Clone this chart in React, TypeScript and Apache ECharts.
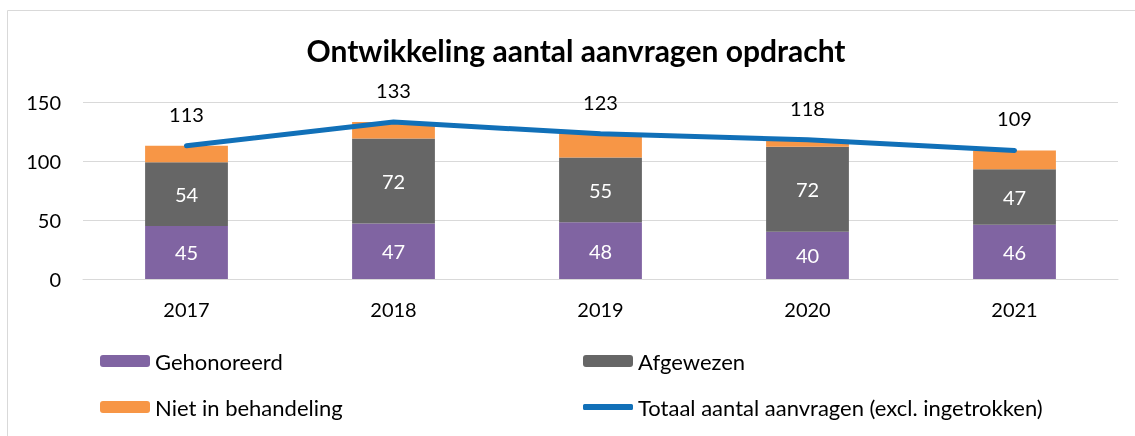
import React, { useEffect, useRef } from "react";
import * as echarts from "echarts";

const categories = ["2017", "2018", "2019", "2020", "2021"];
const gehonoreerd = [45, 47, 48, 40, 46];
const afgewezen = [54, 72, 55, 72, 47];
const nietInBehandeling = [14, 14, 20, 6, 16];
const totaal = [113, 133, 123, 118, 109];
const yTicks = { min: 0, max: 150, interval: 50 };

const FONT = "Lato";

export default function App() {
  const ref = useRef<HTMLDivElement>(null);
  useEffect(() => {
    if (!ref.current) return;
    const chart = echarts.init(ref.current, undefined, { renderer: "svg" });
    const legendBase = {
      itemWidth: 50,
      itemHeight: 12,
      padding: 0,
      textStyle: { fontSize: 22, color: "#000", fontFamily: FONT, padding: [0, 0, 0, 0] },
      selectedMode: false,
    };
    chart.setOption({
      animation: false,
      textStyle: { fontFamily: FONT },
      graphic: [
        {
          type: "rect",
          shape: { x: 7.5, y: 10.5, width: 1300, height: 600 },
          style: { fill: "none", stroke: "#D9D9D9", lineWidth: 1 },
          silent: true,
        },
        {
          type: "text",
          x: 576,
          y: 50,
          style: {
            text: "Ontwikkeling aantal aanvragen opdracht",
            fontFamily: FONT,
            fontWeight: "bold",
            fontSize: 30,
            fill: "#000",
            align: "center",
            verticalAlign: "middle",
          },
        },
      ],
      grid: { left: 83, right: 17, top: 102, bottom: 157 },
      legend: [
        { ...legendBase, data: ["Gehonoreerd"], left: 100, top: 350 },
        { ...legendBase, data: ["Afgewezen"], left: 583, top: 350 },
        { ...legendBase, data: ["Niet in behandeling"], left: 100, top: 396 },
        {
          ...legendBase,
          data: [
            {
              name: "Totaal aantal aanvragen (excl. ingetrokken)",
              icon: "roundRect",
            },
          ],
          itemHeight: 6,
          left: 583,
          top: 396,
        },
      ],
      xAxis: {
        type: "category",
        data: categories,
        axisLine: { show: true, lineStyle: { color: "#D9D9D9", width: 1 } },
        axisTick: { show: false },
        axisLabel: { fontSize: 20, color: "#000", margin: 20, fontFamily: FONT },
      },
      yAxis: {
        type: "value",
        min: yTicks.min,
        max: yTicks.max,
        interval: yTicks.interval,
        axisLine: { show: false },
        axisTick: { show: false },
        splitLine: { lineStyle: { color: "#D9D9D9", width: 1 } },
        axisLabel: { fontSize: 20, color: "#000", margin: 22, fontFamily: FONT },
      },
      series: [
        {
          name: "Gehonoreerd",
          type: "bar",
          stack: "total",
          barWidth: "40%",
          data: gehonoreerd,
          itemStyle: { color: "#8064A2" },
          label: { show: true, position: "inside", color: "#fff", fontSize: 20, fontFamily: FONT },
        },
        {
          name: "Afgewezen",
          type: "bar",
          stack: "total",
          data: afgewezen,
          itemStyle: { color: "#666666" },
          label: { show: true, position: "inside", color: "#fff", fontSize: 20, fontFamily: FONT },
        },
        {
          name: "Niet in behandeling",
          type: "bar",
          stack: "total",
          data: nietInBehandeling,
          itemStyle: { color: "#F79646" },
        },
        {
          name: "Totaal aantal aanvragen (excl. ingetrokken)",
          type: "line",
          data: totaal,
          z: 5,
          symbol: "circle",
          symbolSize: 0,
          lineStyle: { color: "#1170B8", width: 5, cap: "round" },
          itemStyle: { color: "#1170B8" },
          label: { show: true, position: "top", distance: 22, color: "#000", fontSize: 20, fontFamily: FONT },
        },
      ],
    });
    return () => chart.dispose();
  }, []);
  return (
    <div
      ref={ref}
      style={{ position: "fixed", left: 0, top: 0, width: 1135, height: 436 }}
    />
  );
}
